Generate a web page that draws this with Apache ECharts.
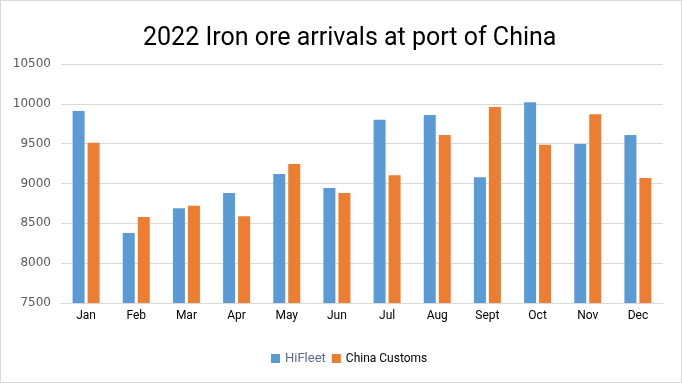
<!DOCTYPE html>
<html><head><meta charset="utf-8">
<script src="https://cdn.jsdelivr.net/npm/echarts@6/dist/echarts.min.js"></script>
<style>html,body{margin:0;padding:0;background:#fff}#c{width:680px;height:381px;border:1px solid #d9d9d9;}</style>
</head><body><div id="c"></div>
<script>
var categories = ['Jan','Feb','Mar','Apr','May','Jun','Jul','Aug','Sept','Oct','Nov','Dec'];
var hiFleet = [9910, 8380, 8690, 8880, 9120, 8945, 9800, 9860, 9080, 10020, 9495, 9610];
var chinaCustoms = [9510, 8580, 8720, 8590, 9245, 8880, 9105, 9610, 9960, 9485, 9870, 9070];
var chart = echarts.init(document.getElementById('c'));
chart.setOption({
  animation: false,
  title: {text: '2022 Iron ore arrivals at port of China', left: 137, top: 20,
    textStyle: {fontFamily: 'Roboto', fontSize: 25, fontWeight: 'normal', color: '#000'}},
  legend: {bottom: 12, left: 265, itemWidth: 9, itemHeight: 9, itemGap: 6,
    icon: 'rect', textStyle: {fontFamily: 'Roboto', fontSize: 12, color: '#000'},
    data: [{name: 'HiFleet', textStyle: {color: '#5a6a8a', fontSize: 13}}, {name: 'China Customs'}]},
  grid: {left: 60, right: 18, top: 63, bottom: 79},
  xAxis: {type: 'category', data: categories,
    axisLine: {lineStyle: {color: '#d9d9d9'}}, axisTick: {show: false},
    axisLabel: {color: '#000', fontFamily: 'Roboto', fontSize: 12, margin: 7}},
  yAxis: {type: 'value', min: 7500, max: 10500, interval: 500,
    axisLine: {show: false}, axisTick: {show: false},
    splitLine: {lineStyle: {color: '#d9d9d9'}},
    axisLabel: {color: '#595959', fontFamily: 'DejaVu Sans', fontSize: 12, margin: 10,
      formatter: function (v) { return String(v); }}},
  series: [
    {name: 'HiFleet', type: 'bar', data: hiFleet, barWidth: 12, barGap: '25%', itemStyle: {color: '#5B9BD5'}},
    {name: 'China Customs', type: 'bar', data: chinaCustoms, barWidth: 12, itemStyle: {color: '#ED7D31'}}
  ]
});
</script></body></html>
